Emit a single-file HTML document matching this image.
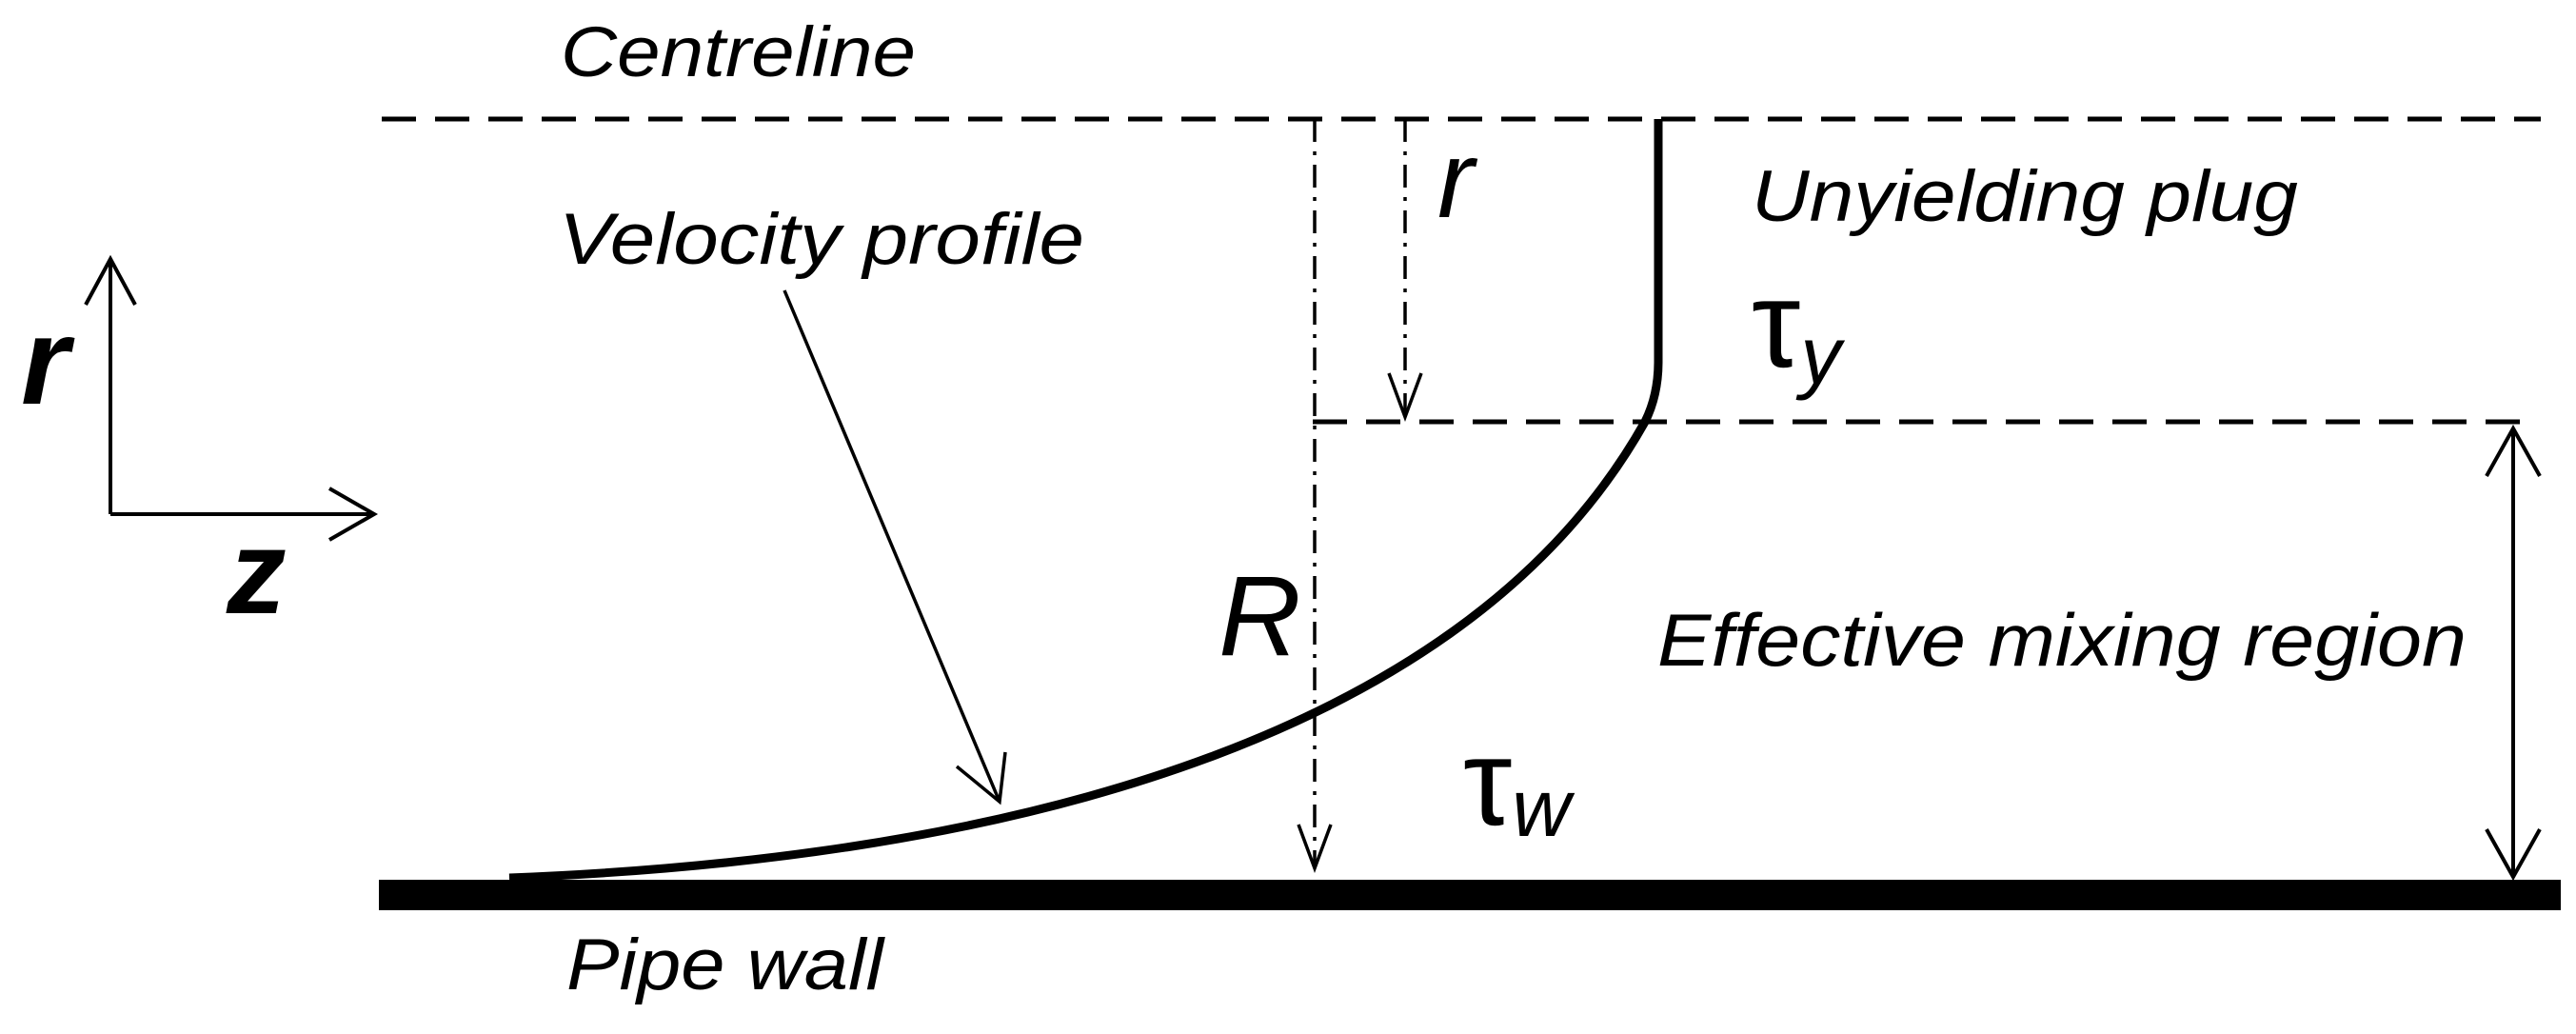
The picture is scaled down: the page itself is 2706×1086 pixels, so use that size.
<!DOCTYPE html>
<html><head><meta charset="utf-8"><style>html,body{margin:0;padding:0;background:#fff}svg{display:block}</style></head>
<body>
<svg width="2706" height="1086" viewBox="0 0 2706 1086" xmlns="http://www.w3.org/2000/svg" font-family="Liberation Sans, sans-serif" font-style="italic">
<g stroke="#000" fill="none">
<line x1="401" y1="125" x2="2669" y2="125" stroke-width="5" stroke-dasharray="36,20"/>
<line x1="1379" y1="443" x2="2656" y2="443" stroke-width="5" stroke-dasharray="36,20"/>
<line x1="1381" y1="125" x2="1381" y2="912" stroke-width="3.5" stroke-dasharray="24,10,4,10"/>
<polyline points="1364,866 1381,912 1398,866" stroke-width="3.5"/>
<line x1="1476" y1="125" x2="1476" y2="438" stroke-width="3.5" stroke-dasharray="24,10,4,10"/>
<polyline points="1459,392 1476,438 1493,392" stroke-width="3.5"/>
<line x1="116" y1="272" x2="116" y2="540" stroke-width="4"/>
<line x1="116" y1="540" x2="392" y2="540" stroke-width="4"/>
<polyline points="90,320 116,272 142,320" stroke-width="4"/>
<polyline points="346,513 393,540 346,567" stroke-width="4"/>
<line x1="824" y1="305" x2="1050" y2="842" stroke-width="3.5"/>
<polyline points="1005,805 1050,842 1056,790" stroke-width="3.5"/>
<line x1="2640" y1="450" x2="2640" y2="921" stroke-width="4"/>
<polyline points="2612,500 2640,450 2668,500" stroke-width="4"/>
<polyline points="2612,871 2640,921 2668,871" stroke-width="4"/>
<path d="M535,922 C1100,900 1550,760 1728,443 Q1742,415 1742,380 L1742,125" stroke-width="9"/>
</g>
<rect x="398" y="924" width="2292" height="32" fill="#000"/>
<g fill="#000">
<text x="589" y="80" font-size="74" textLength="373" lengthAdjust="spacingAndGlyphs">Centreline</text>
<text x="587" y="277" font-size="76" textLength="552" lengthAdjust="spacingAndGlyphs">Velocity profile</text>
<text x="1840" y="232" font-size="76" textLength="574" lengthAdjust="spacingAndGlyphs">Unyielding plug</text>
<text x="1741" y="699" font-size="78" textLength="850" lengthAdjust="spacingAndGlyphs">Effective mixing region</text>
<text x="595" y="1039" font-size="76" textLength="333" lengthAdjust="spacingAndGlyphs">Pipe wall</text>
<text x="22" y="424" font-size="130" font-weight="bold">r</text>
<text x="238" y="644" font-size="125" font-weight="bold">z</text>
<text x="1510" y="228" font-size="115">r</text>
<text x="1280" y="688" font-size="120">R</text>
<text x="1840" y="385" font-size="130" font-style="normal">τ<tspan font-size="85" font-style="italic" dy="18">y</tspan></text>
<text x="1537" y="866" font-size="130" font-style="normal">τ<tspan font-size="85" font-style="italic" dy="12">w</tspan></text>
</g>
</svg>
</body></html>
